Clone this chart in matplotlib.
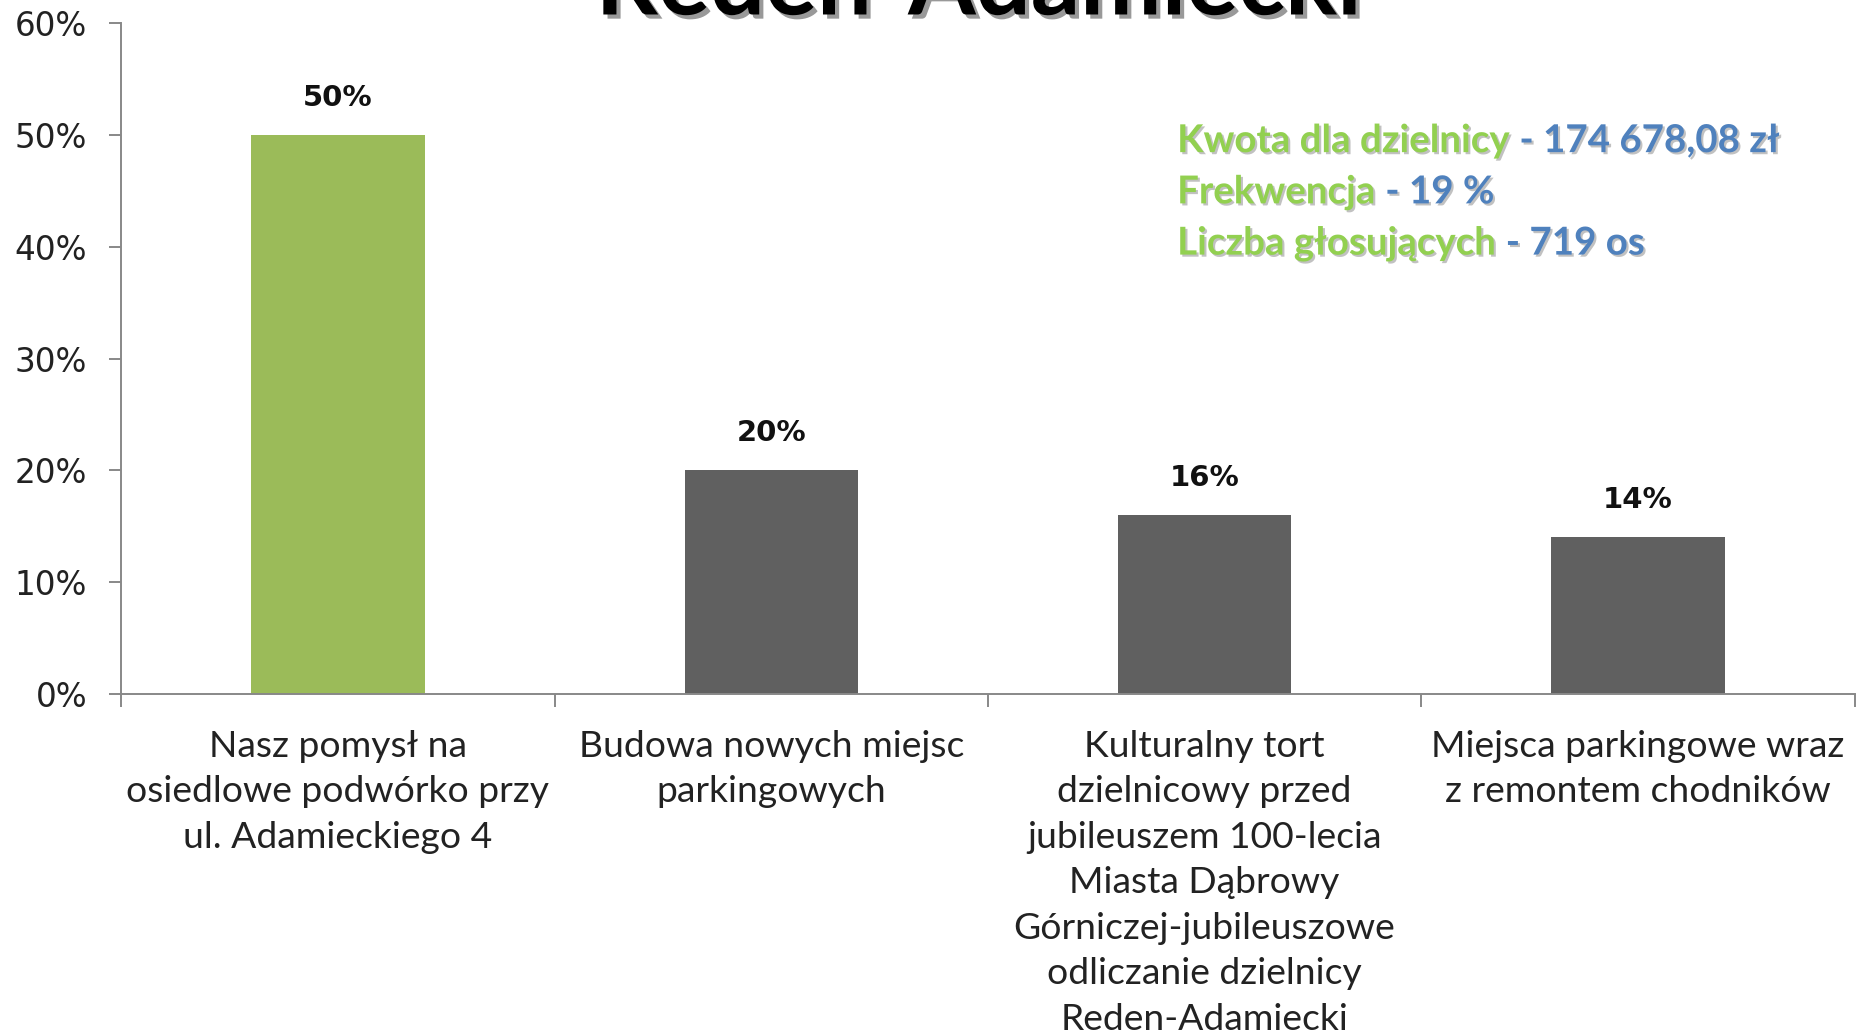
import matplotlib.pyplot as plt
import matplotlib.patheffects as pe
import numpy as np

# data
categories = [
    "Nasz pomysł na\nosiedlowe podwórko przy\nul. Adamieckiego 4",
    "Budowa nowych miejsc\nparkingowych",
    "Kulturalny tort\ndzielnicowy przed\njubileuszem 100-lecia\nMiasta Dąbrowy\nGórniczej-jubileuszowe\nodliczanie dzielnicy\nReden-Adamiecki",
    "Miejsca parkingowe wraz\nz remontem chodników",
]
values = [50, 20, 16, 14]
bar_colors = ["#9BBB59", "#606060", "#606060", "#606060"]
yticks = [0, 10, 20, 30, 40, 50, 60]

info_labels = ["Kwota dla dzielnicy", "Frekwencja", "Liczba głosujących"]
info_values = ["174 678,08 zł", "19 %", "719 os"]

fig = plt.figure(figsize=(18.64, 10.35), dpi=100)
ax = fig.add_axes([0.065, 0.3295, 0.93, 0.648])

x = np.arange(len(values))
bars = ax.bar(x, values, width=0.4, color=bar_colors)

ax.set_xlim(-0.5, 3.5)
ax.set_ylim(0, 60)
ax.set_yticks(yticks)
ax.set_yticklabels([f"{t}%" for t in yticks], fontsize=23.5, color="#222222")

# labels under bars, ticks at category boundaries
ax.set_xticks(x)
ax.set_xticklabels(categories, fontsize=26.8, family="Lato", linespacing=1.46, color="#222222")
ax.set_xticks(np.arange(-0.5, 4, 1), minor=True)
ax.tick_params(axis="x", which="major", length=0, pad=26)
ax.tick_params(axis="x", which="minor", length=9, width=1.4, color="#888888", direction="out")
ax.tick_params(axis="y", length=8.5, width=1.4, color="#888888", pad=16)

for s in ["top", "right"]:
    ax.spines[s].set_visible(False)
for s in ["left", "bottom"]:
    ax.spines[s].set_color("#888888")
    ax.spines[s].set_linewidth(1.4)

# value labels
for xi, v in zip(x, values):
    ax.text(xi, v + 2.6, f"{v}%", ha="center", va="baseline", fontsize=21,
            fontweight="bold", color="#111111")

# info box
shadow = [pe.withSimplePatchShadow(offset=(1.5, -1.5), shadow_rgbFace="#777777", alpha=0.45)]
ys = [0.853, 0.8035, 0.754]
for lab, val, yy in zip(info_labels, info_values, ys):
    t = fig.text(0.6315, yy, lab + " ", fontsize=27.7, family="Lato", fontweight="bold",
                 color="#92D050", va="baseline", path_effects=shadow)
    fig.canvas.draw()
    bb = t.get_window_extent()
    fig.text(bb.x1 / fig.bbox.width, yy, "- " + val, fontsize=27.7, family="Lato",
             fontweight="bold", color="#4F81BD", va="baseline", path_effects=shadow)

# title cut off at the top edge, as in the source
fig.text(0.525, 0.986, "Reden-Adamiecki", ha="center", va="baseline", fontsize=70,
         family="Lato", fontweight="bold", color="black",
         path_effects=[pe.withSimplePatchShadow(offset=(3, -3), shadow_rgbFace="#555555", alpha=0.6)])

fig.savefig("out.png", dpi=100)
